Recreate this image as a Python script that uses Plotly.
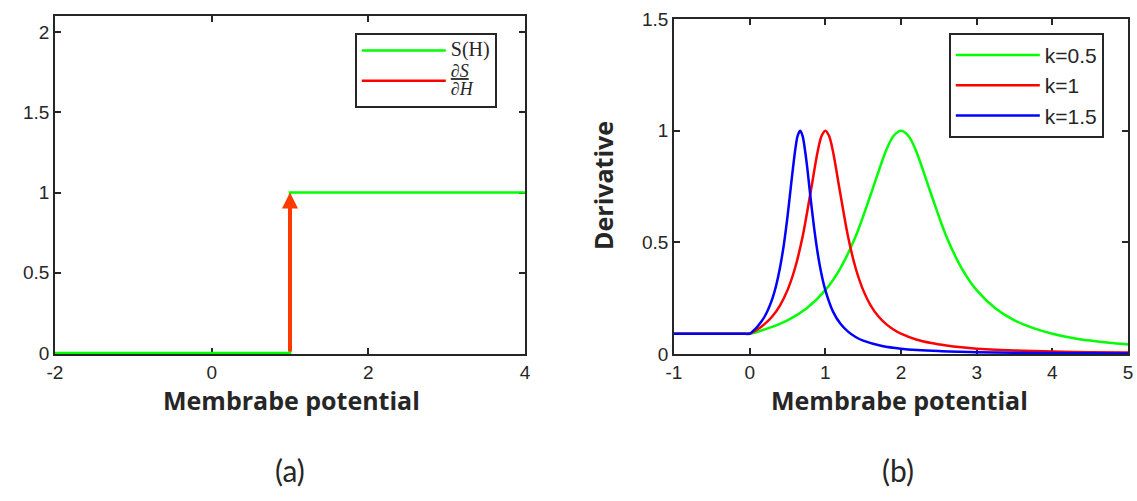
import plotly.graph_objects as go

# ---- panel (a): step activation and its derivative ----
step_x = [-2, 1, 1, 4]
step_y = [0, 0, 1, 1]
spike_x = 1          # location of the derivative impulse
spike_height = 1     # drawn height of the impulse arrow

xa_ticks = [-2, 0, 2, 4]
xa_labels = ["-2", "0", "2", "4"]
ya_ticks = [0, 0.5, 1, 1.5, 2]
ya_labels = ["0", "0.5", "1", "1.5", "2"]

# ---- panel (b): derivative curves for different k ----
x_k05 = [-1, -0.1, 0, 0.25, 0.5, 0.75, 1.0, 1.2, 1.4, 1.6, 1.8, 1.9, 2.0, 2.1, 2.2, 2.4,
         2.6, 2.8, 3.0, 3.25, 3.5, 3.75, 4.0, 4.25, 4.5, 4.75, 5.0]
y_k05 = [0.091, 0.091, 0.091, 0.116, 0.151, 0.204, 0.286, 0.385, 0.526, 0.714, 0.909,
         0.976, 1.0, 0.976, 0.909, 0.714, 0.526, 0.385, 0.286, 0.204, 0.151, 0.116,
         0.091, 0.073, 0.060, 0.050, 0.043]

x_k1 = [-1, -0.1, 0, 0.1, 0.2, 0.3, 0.4, 0.5, 0.6, 0.7, 0.8, 0.9, 0.95, 1.0, 1.05, 1.1,
        1.2, 1.3, 1.4, 1.5, 1.6, 1.7, 1.8, 1.9, 2.0, 2.2, 2.4, 2.6, 2.8, 3.0, 3.25, 3.5,
        3.75, 4.0, 4.5, 5.0]
y_k1 = [0.091, 0.091, 0.091, 0.110, 0.135, 0.169, 0.217, 0.286, 0.385, 0.526, 0.714,
        0.909, 0.976, 1.0, 0.976, 0.909, 0.714, 0.526, 0.385, 0.286, 0.217, 0.169,
        0.135, 0.110, 0.091, 0.065, 0.049, 0.038, 0.030, 0.024, 0.019, 0.016, 0.013,
        0.011, 0.0081, 0.0062]

x_k15 = [-1, -0.05, 0, 0.05, 0.1, 0.15, 0.2, 0.25, 0.3, 0.35, 0.4, 0.45, 0.5, 0.55, 0.6,
         0.633, 0.667, 0.7, 0.75, 0.8, 0.85, 0.9, 0.95, 1.0, 1.1, 1.2, 1.3, 1.4, 1.5,
         1.75, 2.0, 2.5, 3.0, 3.5, 4.0, 4.5, 5.0]
y_k15 = [0.091, 0.091, 0.091, 0.105, 0.122, 0.143, 0.169, 0.204, 0.248, 0.307, 0.385,
         0.486, 0.615, 0.766, 0.909, 0.976, 1.0, 0.976, 0.865, 0.714, 0.569, 0.449,
         0.356, 0.286, 0.191, 0.135, 0.100, 0.076, 0.060, 0.036, 0.024, 0.013, 0.0081,
         0.0055, 0.0040, 0.0030, 0.0024]

k_labels = ["k=0.5", "k=1", "k=1.5"]
xb_ticks = [-1, 0, 1, 2, 3, 4, 5]
xb_labels = ["-1", "0", "1", "2", "3", "4", "5"]
yb_ticks = [0, 0.5, 1, 1.5]
yb_labels = ["0", "0.5", "1", "1.5"]

GREEN = "#00FF00"
RED = "#FF0000"
BLUE = "#0000FF"
ARROW = "#FF3A00"
AXIS = "#262626"
LW = 2.5
W, H = 1137, 501

fig = go.Figure()

# panel (a)
fig.add_trace(go.Scatter(x=step_x, y=step_y, mode="lines",
                         name="<span style='font-size:20px'>S(H)</span>",
                         line=dict(color=GREEN, width=LW), xaxis="x", yaxis="y",
                         legend="legend"))
fig.add_trace(go.Scatter(x=[None], y=[None], mode="lines",
                         name="<span style='font-size:18px'><u><i>∂S</i></u></span><br>"
                              "<span style='font-size:18px'><i>∂H</i></span>",
                         line=dict(color=RED, width=LW), xaxis="x", yaxis="y",
                         legend="legend"))
fig.add_annotation(x=spike_x, y=spike_height, ax=spike_x, ay=0,
                   xref="x", yref="y", axref="x", ayref="y", text="",
                   showarrow=True, arrowhead=2, arrowsize=0.8, arrowwidth=4,
                   arrowcolor=ARROW)

# panel (b)
for xs, ys, col, lab in [(x_k05, y_k05, GREEN, k_labels[0]),
                         (x_k1, y_k1, RED, k_labels[1]),
                         (x_k15, y_k15, BLUE, k_labels[2])]:
    fig.add_trace(go.Scatter(x=xs, y=ys, mode="lines", name=lab,
                             line=dict(color=col, width=LW, shape="spline", smoothing=0.8),
                             xaxis="x2", yaxis="y2", legend="legend2"))

tickfont = dict(family="Liberation Sans, Arial, sans-serif", size=19, color=AXIS)
axis_common = dict(ticks="inside", ticklen=6, tickwidth=1.5, tickcolor=AXIS,
                   showline=True, mirror="ticks", linecolor=AXIS, linewidth=1.8,
                   showgrid=False, zeroline=False, tickfont=tickfont,
                   layer="below traces", automargin=False, tickmode="array")

fig.update_layout(
    width=W, height=H,
    margin=dict(l=0, r=0, t=0, b=0, pad=0, autoexpand=False),
    paper_bgcolor="white", plot_bgcolor="white",
    xaxis=dict(domain=[55 / W, 525 / W], range=[-2, 4], tickvals=xa_ticks,
               ticktext=xa_labels, anchor="y", **axis_common),
    yaxis=dict(domain=[(H - 354) / H, (H - 16) / H], range=[-0.006, 2.1],
               tickvals=ya_ticks, ticktext=ya_labels, anchor="x", **axis_common),
    xaxis2=dict(domain=[674 / W, 1128 / W], range=[-1, 5], tickvals=xb_ticks,
                ticktext=xb_labels, anchor="y2", **axis_common),
    yaxis2=dict(domain=[(H - 354) / H, (H - 19) / H], range=[0, 1.5],
                tickvals=yb_ticks, ticktext=yb_labels, anchor="x2", **axis_common),
    legend=dict(x=355 / W, y=(H - 33) / H, xanchor="left", yanchor="top",
                bgcolor="white", bordercolor=AXIS, borderwidth=1.8, itemwidth=84,
                font=dict(family="Liberation Serif, DejaVu Serif, serif", size=14,
                          color=AXIS),
                tracegroupgap=0),
    legend2=dict(x=949 / W, y=(H - 33) / H, xanchor="left", yanchor="top",
                 bgcolor="white", bordercolor=AXIS, borderwidth=1.8, itemwidth=84,
                 font=dict(family="Liberation Sans, Arial, sans-serif", size=21,
                           color=AXIS)),
    showlegend=True,
)

title_font = dict(family="Open Sans, Lato, sans-serif", size=25, color=AXIS)
ann = dict(xref="paper", yref="paper", showarrow=False, xanchor="center",
           yanchor="middle")
fig.add_annotation(text="<b>Membrabe potential</b>", x=291 / W, y=(H - 400) / H,
                   font=title_font, **ann)
fig.add_annotation(text="<b>Membrabe potential</b>", x=899 / W, y=(H - 400) / H,
                   font=title_font, **ann)
fig.add_annotation(text="<b>Derivative</b>", x=603 / W, y=(H - 186) / H,
                   textangle=-90, font=title_font, **ann)

panel_font = dict(family="Lato, Open Sans, sans-serif", size=30, color=AXIS)
fig.add_annotation(text="(a)", x=290 / W, y=(H - 470) / H, font=panel_font, **ann)
fig.add_annotation(text="(b)", x=898 / W, y=(H - 470) / H, font=panel_font, **ann)

fig.write_html("out.html")
